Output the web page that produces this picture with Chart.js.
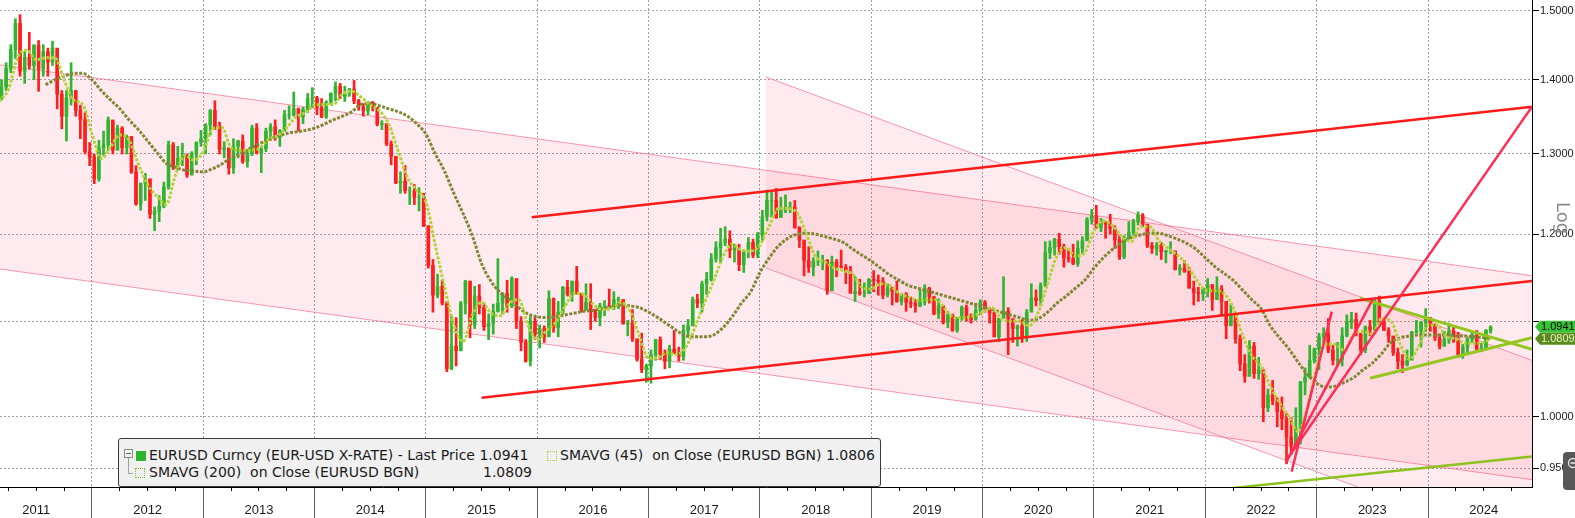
<!DOCTYPE html>
<html>
<head>
<meta charset="utf-8">
<title>EURUSD Curncy</title>
<script src="https://cdn.jsdelivr.net/npm/chart.js@4.4.1/dist/chart.umd.min.js"></script>
<style>
  body { margin: 0; background: #fff; }
  #wrap { position: relative; width: 1575px; height: 518px; overflow: hidden; }
  #chart { position: absolute; left: 0; top: 0; }
  #legend { position: absolute; left: 118px; top: 438px; width: 763px; height: 49px; box-sizing: border-box;
            background: #f0f0f0; border: 1px solid #3a3a3a; border-radius: 3px;
            font: 14px 'DejaVu Sans', sans-serif; color: #1a1a1a; }
  #legend span { position: absolute; white-space: pre; line-height: 18px; }
  .fold { left: 5px; top: 10px; width: 7px; height: 7px; border: 1px solid #8a8a8a; line-height: 6px !important; }
  .fold::after { content: ''; position: absolute; left: 1px; top: 3px; width: 5px; height: 1px; background: #666; }
  .stem { left: 9px; top: 19px; width: 1px; height: 16px !important; background: #a0a0a0; }
  .twig { left: 9px; top: 34px; width: 5px; height: 1px !important; background: #a0a0a0; }
  .sw { width: 10px; height: 10px !important; box-sizing: border-box; }
</style>
</head>
<body>
<div id="wrap">
  <canvas id="chart" width="1575" height="518"></canvas>
  <div id="legend">
    <span class="fold"></span><span class="stem"></span><span class="twig"></span>
    <span class="sw" style="left:17px;top:12px;background:#2db52d"></span>
    <span style="left:30px;top:7px">EURUSD Curncy (EUR-USD X-RATE) - Last Price 1.0941</span>
    <span class="sw" style="left:428px;top:12px;border:1px dotted #a8d040"></span>
    <span style="left:441px;top:7px">SMAVG (45)  on Close (EURUSD BGN) 1.0806</span>
    <span class="sw" style="left:16px;top:29px;border:1px dotted #8cb838"></span>
    <span style="left:30px;top:24px">SMAVG (200)  on Close (EURUSD BGN)</span>
    <span style="left:30px;top:24px;width:383px;text-align:right">1.0809</span>
  </div>
</div>
<script>
// EURUSD: [high, low, close]
const eur2011 = [ // from the first half of March
  [1.400, 1.372, 1.390], [1.424, 1.385, 1.416], [1.450, 1.410, 1.443], [1.488, 1.430, 1.481],
  [1.494, 1.405, 1.412], [1.440, 1.395, 1.432], [1.468, 1.415, 1.420], [1.450, 1.400, 1.449],
  [1.456, 1.384, 1.415], [1.450, 1.405, 1.440], [1.445, 1.405, 1.425], [1.455, 1.420, 1.445],
  [1.440, 1.360, 1.380], [1.385, 1.333, 1.350], [1.385, 1.317, 1.375], [1.424, 1.365, 1.385],
  [1.385, 1.350, 1.358], [1.365, 1.320, 1.345], [1.355, 1.300, 1.303], [1.315, 1.285, 1.296]
];
const eur2012 = [
  [1.300, 1.262, 1.268], [1.318, 1.265, 1.308], [1.330, 1.298, 1.312], [1.349, 1.305, 1.345],
  [1.335, 1.300, 1.305], [1.338, 1.305, 1.334], [1.336, 1.300, 1.308], [1.325, 1.300, 1.323],
  [1.322, 1.275, 1.277], [1.285, 1.235, 1.237], [1.263, 1.229, 1.262], [1.275, 1.241, 1.268],
  [1.268, 1.219, 1.224], [1.233, 1.204, 1.228], [1.247, 1.215, 1.234], [1.264, 1.232, 1.258],
  [1.317, 1.255, 1.312], [1.315, 1.280, 1.286], [1.310, 1.280, 1.294], [1.314, 1.285, 1.297],
  [1.300, 1.270, 1.273], [1.303, 1.273, 1.300], [1.316, 1.286, 1.315], [1.331, 1.310, 1.320]
];
const eur2013 = [
  [1.340, 1.300, 1.338], [1.359, 1.325, 1.358], [1.371, 1.332, 1.336], [1.342, 1.300, 1.306],
  [1.316, 1.295, 1.308], [1.305, 1.274, 1.282], [1.320, 1.275, 1.310], [1.318, 1.295, 1.317],
  [1.325, 1.288, 1.290], [1.306, 1.283, 1.300], [1.338, 1.298, 1.334], [1.340, 1.300, 1.301],
  [1.310, 1.276, 1.307], [1.334, 1.303, 1.330], [1.340, 1.318, 1.336], [1.345, 1.318, 1.322],
  [1.332, 1.310, 1.330], [1.358, 1.330, 1.352], [1.364, 1.346, 1.352], [1.383, 1.350, 1.360],
  [1.361, 1.330, 1.349], [1.362, 1.340, 1.359], [1.381, 1.355, 1.374], [1.389, 1.362, 1.375]
];
const eur2014 = [
  [1.377, 1.352, 1.362], [1.374, 1.348, 1.349], [1.371, 1.347, 1.369], [1.382, 1.366, 1.381],
  [1.397, 1.371, 1.391], [1.395, 1.374, 1.377], [1.391, 1.370, 1.381], [1.388, 1.377, 1.387],
  [1.399, 1.367, 1.371], [1.373, 1.358, 1.363], [1.367, 1.350, 1.357], [1.370, 1.352, 1.369],
  [1.370, 1.357, 1.362], [1.362, 1.337, 1.339], [1.344, 1.332, 1.340], [1.339, 1.311, 1.313],
  [1.317, 1.286, 1.297], [1.297, 1.262, 1.263], [1.277, 1.250, 1.265], [1.285, 1.250, 1.253],
  [1.258, 1.236, 1.253], [1.261, 1.236, 1.245], [1.257, 1.228, 1.245], [1.250, 1.209, 1.210]
];
const eur2015 = [
  [1.210, 1.160, 1.163], [1.170, 1.110, 1.129], [1.153, 1.126, 1.139], [1.146, 1.118, 1.120],
  [1.122, 1.046, 1.049], [1.105, 1.048, 1.073], [1.104, 1.052, 1.068], [1.122, 1.068, 1.120],
  [1.146, 1.108, 1.145], [1.145, 1.082, 1.096], [1.139, 1.092, 1.128], [1.141, 1.108, 1.115],
  [1.120, 1.090, 1.094], [1.108, 1.080, 1.098], [1.119, 1.086, 1.111], [1.171, 1.110, 1.120],
  [1.132, 1.108, 1.131], [1.146, 1.110, 1.117], [1.150, 1.115, 1.148], [1.146, 1.092, 1.100],
  [1.105, 1.068, 1.077], [1.080, 1.056, 1.057], [1.105, 1.052, 1.100], [1.105, 1.080, 1.086]
];
const eur2016 = [
  [1.096, 1.071, 1.092], [1.095, 1.077, 1.083], [1.134, 1.089, 1.125], [1.126, 1.088, 1.093],
  [1.122, 1.083, 1.110], [1.139, 1.108, 1.138], [1.146, 1.128, 1.130], [1.145, 1.122, 1.145],
  [1.162, 1.130, 1.131], [1.131, 1.110, 1.113], [1.142, 1.112, 1.121], [1.142, 1.091, 1.111],
  [1.113, 1.100, 1.104], [1.120, 1.095, 1.117], [1.123, 1.106, 1.117], [1.136, 1.116, 1.116],
  [1.133, 1.113, 1.124], [1.127, 1.114, 1.124], [1.124, 1.097, 1.097], [1.101, 1.084, 1.098],
  [1.113, 1.078, 1.081], [1.080, 1.057, 1.059], [1.087, 1.045, 1.048], [1.054, 1.035, 1.052]
];
const eur2017 = [
  [1.069, 1.034, 1.064], [1.080, 1.058, 1.080], [1.083, 1.059, 1.064], [1.069, 1.049, 1.057],
  [1.074, 1.050, 1.070], [1.090, 1.065, 1.065], [1.072, 1.057, 1.062], [1.096, 1.058, 1.090],
  [1.102, 1.084, 1.095], [1.127, 1.095, 1.124], [1.130, 1.115, 1.120], [1.145, 1.110, 1.142],
  [1.155, 1.130, 1.147], [1.177, 1.145, 1.171], [1.191, 1.167, 1.184], [1.207, 1.166, 1.190],
  [1.209, 1.186, 1.194], [1.204, 1.172, 1.181], [1.188, 1.167, 1.183], [1.188, 1.157, 1.164],
  [1.180, 1.155, 1.180], [1.196, 1.172, 1.190], [1.194, 1.172, 1.175], [1.202, 1.172, 1.200]
];
const eur2018 = [
  [1.229, 1.192, 1.221], [1.254, 1.216, 1.241], [1.251, 1.221, 1.241], [1.256, 1.219, 1.220],
  [1.245, 1.221, 1.229], [1.248, 1.226, 1.232], [1.239, 1.226, 1.233], [1.241, 1.207, 1.208],
  [1.209, 1.184, 1.193], [1.185, 1.151, 1.169], [1.185, 1.155, 1.161], [1.172, 1.151, 1.168],
  [1.180, 1.163, 1.168], [1.175, 1.158, 1.169], [1.170, 1.130, 1.134], [1.174, 1.134, 1.167],
  [1.170, 1.150, 1.162], [1.181, 1.160, 1.161], [1.164, 1.142, 1.157], [1.162, 1.132, 1.131],
  [1.150, 1.122, 1.133], [1.147, 1.129, 1.131], [1.143, 1.127, 1.131], [1.148, 1.131, 1.147]
];
const eur2019 = [
  [1.157, 1.133, 1.146], [1.152, 1.129, 1.145], [1.149, 1.125, 1.129], [1.142, 1.127, 1.137],
  [1.138, 1.118, 1.133], [1.145, 1.121, 1.122], [1.131, 1.118, 1.130], [1.132, 1.111, 1.121],
  [1.127, 1.115, 1.120], [1.124, 1.110, 1.117], [1.135, 1.116, 1.121], [1.141, 1.118, 1.137],
  [1.138, 1.120, 1.127], [1.128, 1.107, 1.108], [1.125, 1.103, 1.117], [1.117, 1.097, 1.099],
  [1.111, 1.093, 1.107], [1.108, 1.089, 1.090], [1.104, 1.088, 1.103], [1.117, 1.101, 1.115],
  [1.118, 1.100, 1.104], [1.108, 1.098, 1.102], [1.120, 1.101, 1.112], [1.124, 1.107, 1.121]
];
const eur2020 = [
  [1.123, 1.110, 1.114], [1.115, 1.098, 1.109], [1.110, 1.083, 1.083], [1.103, 1.078, 1.103],
  [1.150, 1.105, 1.111], [1.115, 1.064, 1.103], [1.099, 1.077, 1.092], [1.096, 1.073, 1.095],
  [1.102, 1.077, 1.082], [1.113, 1.078, 1.110], [1.142, 1.111, 1.126], [1.135, 1.117, 1.123],
  [1.143, 1.117, 1.140], [1.191, 1.139, 1.178], [1.192, 1.171, 1.184], [1.195, 1.175, 1.194],
  [1.201, 1.176, 1.185], [1.188, 1.161, 1.172], [1.183, 1.167, 1.171], [1.188, 1.164, 1.165],
  [1.192, 1.162, 1.183], [1.197, 1.177, 1.192], [1.220, 1.195, 1.218], [1.230, 1.212, 1.222]
];
const eur2021 = [
  [1.235, 1.207, 1.208], [1.219, 1.203, 1.214], [1.215, 1.195, 1.212], [1.224, 1.200, 1.207],
  [1.210, 1.183, 1.193], [1.199, 1.170, 1.173], [1.198, 1.171, 1.196], [1.215, 1.194, 1.202],
  [1.218, 1.199, 1.215], [1.227, 1.211, 1.223], [1.225, 1.209, 1.212], [1.212, 1.184, 1.186],
  [1.190, 1.177, 1.183], [1.190, 1.175, 1.187], [1.190, 1.170, 1.179], [1.181, 1.166, 1.180],
  [1.191, 1.177, 1.180], [1.180, 1.158, 1.158], [1.164, 1.152, 1.160], [1.169, 1.155, 1.156],
  [1.161, 1.137, 1.137], [1.145, 1.118, 1.132], [1.138, 1.122, 1.131], [1.137, 1.123, 1.137]
];
const eur2022 = [
  [1.148, 1.127, 1.141], [1.141, 1.112, 1.124], [1.150, 1.128, 1.136], [1.140, 1.106, 1.122],
  [1.122, 1.081, 1.095], [1.119, 1.095, 1.107], [1.107, 1.076, 1.081], [1.085, 1.047, 1.054],
  [1.064, 1.035, 1.041], [1.079, 1.044, 1.073], [1.077, 1.039, 1.044], [1.061, 1.038, 1.048],
  [1.047, 0.995, 1.009], [1.028, 1.005, 1.022], [1.037, 1.012, 1.016], [1.019, 0.990, 1.005],
  [1.020, 0.987, 0.998], [1.003, 0.954, 0.980], [0.999, 0.963, 0.972], [1.009, 0.972, 0.988],
  [1.036, 0.973, 1.035], [1.050, 1.022, 1.040], [1.074, 1.040, 1.058], [1.071, 1.055, 1.070]
];
const eur2023 = [
  [1.087, 1.048, 1.083], [1.093, 1.076, 1.086], [1.103, 1.066, 1.069], [1.074, 1.053, 1.058],
  [1.077, 1.052, 1.059], [1.093, 1.052, 1.084], [1.107, 1.083, 1.099], [1.110, 1.092, 1.102],
  [1.109, 1.084, 1.086], [1.087, 1.064, 1.069], [1.095, 1.066, 1.094], [1.101, 1.084, 1.091],
  [1.124, 1.087, 1.123], [1.128, 1.098, 1.100], [1.104, 1.090, 1.090], [1.093, 1.077, 1.084],
  [1.082, 1.063, 1.066], [1.071, 1.049, 1.057], [1.064, 1.045, 1.053], [1.069, 1.052, 1.058],
  [1.089, 1.060, 1.088], [1.101, 1.087, 1.089], [1.100, 1.072, 1.099], [1.114, 1.089, 1.104]
];
const eur2024 = [ // up to mid July
  [1.104, 1.089, 1.095], [1.097, 1.079, 1.082], [1.086, 1.070, 1.073], [1.089, 1.073, 1.080],
  [1.098, 1.076, 1.089], [1.094, 1.077, 1.079], [1.088, 1.061, 1.064], [1.075, 1.060, 1.072],
  [1.082, 1.065, 1.081], [1.089, 1.077, 1.085], [1.090, 1.067, 1.070], [1.076, 1.067, 1.071],
  [1.091, 1.070, 1.090], [1.095, 1.087, 1.0941]
];
const eurYears = [eur2011, eur2012, eur2013, eur2014, eur2015, eur2016, eur2017,
                  eur2018, eur2019, eur2020, eur2021, eur2022, eur2023, eur2024];
const firstOpen = 1.378;

// moving averages, month-end values
const sma45 = [ // from end of Feb 2011
  1.370, 1.387, 1.432, 1.442, 1.428, 1.431, 1.431, 1.400, 1.372, 1.366, 1.326,
  1.294, 1.309, 1.325, 1.318, 1.287, 1.261, 1.246, 1.236, 1.273, 1.298, 1.292, 1.303,
  1.333, 1.335, 1.308, 1.305, 1.305, 1.307, 1.319, 1.324, 1.335, 1.349, 1.355, 1.365,
  1.366, 1.366, 1.380, 1.384, 1.376, 1.365, 1.357, 1.339, 1.304, 1.270, 1.254, 1.239,
  1.187, 1.138, 1.096, 1.078, 1.107, 1.121, 1.109, 1.106, 1.120, 1.124, 1.096, 1.080,
  1.090, 1.099, 1.117, 1.131, 1.130, 1.119, 1.113, 1.114, 1.121, 1.111, 1.084, 1.060,
  1.061, 1.066, 1.064, 1.072, 1.093, 1.120, 1.145, 1.173, 1.188, 1.181, 1.180, 1.187,
  1.210, 1.231, 1.231, 1.226, 1.200, 1.173, 1.167, 1.160, 1.157, 1.153, 1.138, 1.136,
  1.142, 1.140, 1.131, 1.127, 1.123, 1.124, 1.124, 1.113, 1.104, 1.104, 1.106, 1.110,
  1.115, 1.103, 1.100, 1.100, 1.095, 1.110, 1.142, 1.174, 1.184, 1.174, 1.178, 1.204,
  1.216, 1.210, 1.197, 1.191, 1.209, 1.209, 1.192, 1.183, 1.175, 1.164, 1.147, 1.135,
  1.134, 1.131, 1.115, 1.085, 1.063, 1.052, 1.031, 1.014, 1.000, 0.985, 1.009, 1.051,
  1.075, 1.075, 1.068, 1.086, 1.089, 1.086, 1.103, 1.100, 1.075, 1.059, 1.073, 1.096,
  1.096, 1.083, 1.081, 1.076, 1.076, 1.077
];
const sma200 = [ // from end of Jul 2011
  1.393, 1.400, 1.405, 1.409, 1.409, 1.400,
  1.385, 1.372, 1.360, 1.345, 1.332, 1.317, 1.302, 1.288, 1.283, 1.279, 1.278, 1.277,
  1.281, 1.287, 1.295, 1.300, 1.307, 1.313, 1.318, 1.323, 1.327, 1.329, 1.331, 1.334,
  1.339, 1.345, 1.350, 1.356, 1.366, 1.367, 1.364, 1.360, 1.356, 1.350, 1.340, 1.326,
  1.300, 1.278, 1.250, 1.225, 1.198, 1.165, 1.145, 1.132, 1.124, 1.115, 1.108, 1.105,
  1.104, 1.105, 1.107, 1.109, 1.111, 1.112, 1.114, 1.116, 1.118, 1.117, 1.115, 1.110,
  1.104, 1.097, 1.090, 1.084, 1.083, 1.083, 1.085, 1.093, 1.105, 1.120, 1.133, 1.155,
  1.172, 1.186, 1.195, 1.200, 1.201, 1.200, 1.197, 1.194, 1.190, 1.182, 1.175, 1.168,
  1.160, 1.152, 1.146, 1.140, 1.137, 1.134, 1.131, 1.128, 1.125, 1.122, 1.119, 1.116,
  1.113, 1.110, 1.107, 1.104, 1.101, 1.103, 1.110, 1.120, 1.128, 1.137, 1.146, 1.160,
  1.172, 1.182, 1.190, 1.196, 1.199, 1.201, 1.201, 1.198, 1.194, 1.189, 1.182, 1.172,
  1.162, 1.154, 1.146, 1.135, 1.124, 1.114, 1.095, 1.082, 1.070, 1.056, 1.043, 1.034,
  1.030, 1.031, 1.035, 1.040, 1.048, 1.055, 1.065, 1.077, 1.082, 1.084, 1.085, 1.085,
  1.085, 1.085, 1.084, 1.084, 1.083, 1.082
];
const sma45Last = 1.0806;
const sma200Last = 1.0809;

// drawn trend lines, end points as [year, price]
const outerTop = [[2011.174, 1.4209], [2024.934, 1.1512]];
const outerBottom = [[2011.174, 1.1589], [2024.934, 0.9390]];
const innerTop = [[2018.054, 1.4039], [2024.934, 1.0578]];
const innerBottom = [[2018.054, 1.1601], [2024.934, 0.8741]];
const redTop = [[2015.950, 1.2204], [2024.934, 1.3629]];
const redBottom = [[2015.500, 1.0192], [2024.934, 1.1450]];
const fanA = [[2022.775, 0.9466], [2023.135, 1.1106]];
const fanB = [[2022.724, 0.9551], [2023.508, 1.1255]];
const fanC = [[2022.742, 0.9596], [2024.934, 1.3629]];
const greenTop = [[2023.389, 1.1255], [2024.934, 1.0695]];
const greenLow = [[2023.479, 1.0391], [2024.934, 1.0820]];
const greenBase = [[2021.952, 0.9280], [2024.934, 0.9610]];

// axes
const xStart = 2011.174, xEnd = 2024.934;
const yBottom = 0.9322, yTop = 1.5161;
const yearLabels = ['2011', '2012', '2013', '2014', '2015', '2016', '2017',
                    '2018', '2019', '2020', '2021', '2022', '2023', '2024'];
const yTicks = [0.95, 1.0, 1.1, 1.2, 1.3, 1.4, 1.5];
const yTickLabels = ['0.9500', '1.0000', '', '1.2000', '1.3000', '1.4000', '1.5000'];

const UP = '#2fb52f', DOWN = '#ff1e1e';

// build bars: wick = high/low, body = previous close to close
const wicks = [], bodies = [], barColors = [];
let prevClose = firstOpen;
let lastX = 0, lastClose = 0;
eurYears.forEach((rows, yi) => {
  const year = 2011 + yi;
  const skip = yi === 0 ? 4 : 0;
  rows.forEach((r, i) => {
    const x = year + (skip + i + 0.5) / 24;
    wicks.push({ x: x, y: [r[1], r[0]] });
    bodies.push({ x: x, y: [Math.min(prevClose, r[2]), Math.max(prevClose, r[2])] });
    barColors.push(r[2] >= prevClose ? UP : DOWN);
    prevClose = r[2];
    lastX = x;
    lastClose = r[2];
  });
});

const sma45Points = sma45.map((v, i) => ({ x: 2011 + (2 + i) / 12, y: v }));
sma45Points.push({ x: lastX, y: sma45Last });
const sma200Points = sma200.map((v, i) => ({ x: 2011 + (7 + i) / 12, y: v }));
sma200Points.push({ x: lastX, y: sma200Last });

function pts(pair) {
  return pair.map(p => ({ x: p[0], y: p[1] }));
}

function trend(pair, color, width, order) {
  return { type: 'line', data: pts(pair), borderColor: color, borderWidth: width,
           pointRadius: 0, fill: false, order: order };
}

const CHANNEL_EDGE = 'rgba(243, 110, 140, 0.7)';
const CHANNEL_FILL = 'rgba(255, 60, 100, 0.1)';

const datasets = [
  trend(outerTop, CHANNEL_EDGE, 1, 20),
  Object.assign(trend(outerBottom, CHANNEL_EDGE, 1, 19), { fill: '-1', backgroundColor: CHANNEL_FILL }),
  trend(innerTop, CHANNEL_EDGE, 1, 18),
  Object.assign(trend(innerBottom, CHANNEL_EDGE, 1, 17), { fill: '-1', backgroundColor: CHANNEL_FILL }),
  { type: 'bar', data: wicks, backgroundColor: barColors, barThickness: 2, grouped: false, order: 9 },
  { type: 'bar', data: bodies, backgroundColor: barColors, barThickness: 3, grouped: false, order: 8 },
  { type: 'line', data: sma200Points, borderColor: '#7f8634', borderWidth: 3, borderDash: [3, 1.5],
    pointRadius: 0, cubicInterpolationMode: 'monotone', order: 7 },
  { type: 'line', data: sma45Points, borderColor: '#b2d23a', borderWidth: 3, borderDash: [3, 1.5],
    pointRadius: 0, cubicInterpolationMode: 'monotone', order: 6 },
  trend(greenBase, '#8cc21c', 2.5, 5),
  trend(greenTop, '#95c620', 3, 4),
  trend(greenLow, '#95c620', 3, 4),
  trend(redBottom, '#ff1a1a', 2.5, 3),
  trend(redTop, '#ff1a1a', 2.5, 3),
  trend(fanA, '#ff2d55', 2.5, 2),
  trend(fanB, '#ff2d55', 2.5, 2),
  trend(fanC, '#ff2d55', 2.5, 2)
];

// last price tags, the Log mark and the corner button
const extras = {
  id: 'extras',
  afterDraw(chart) {
    const ctx = chart.ctx;
    const y = chart.scales.y;
    const left = chart.chartArea.right + 3;
    function tag(value, fill, color) {
      const py = y.getPixelForValue(value);
      ctx.beginPath();
      ctx.moveTo(left, py);
      ctx.lineTo(left + 5, py - 6);
      ctx.lineTo(left + 50, py - 6);
      ctx.lineTo(left + 50, py + 6);
      ctx.lineTo(left + 5, py + 6);
      ctx.closePath();
      ctx.fillStyle = fill;
      ctx.fill();
      ctx.fillStyle = color;
      ctx.font = '11px "Liberation Sans", Arial, sans-serif';
      ctx.textBaseline = 'middle';
      ctx.textAlign = 'left';
      ctx.fillText(value.toFixed(4), left + 6, py + 0.5);
    }
    ctx.save();
    tag(sma200Last, '#5b8a1d', '#e4efc8');
    tag(lastClose, '#38c238', '#0a0a0a');

    // Log
    ctx.translate(1557, 202);
    ctx.rotate(Math.PI / 2);
    ctx.fillStyle = '#8c8c8c';
    ctx.font = '18px "DejaVu Sans", sans-serif';
    ctx.textBaseline = 'alphabetic';
    ctx.fillText('Log', 0, 0);
    ctx.restore();

    // corner button
    ctx.save();
    ctx.fillStyle = '#585858';
    ctx.beginPath();
    ctx.roundRect(1563, 452, 24, 38, 4);
    ctx.fill();
    ctx.strokeStyle = '#e8e8e8';
    ctx.lineWidth = 1.3;
    ctx.beginPath();
    ctx.arc(1573, 463, 4.5, 0, Math.PI * 2);
    ctx.moveTo(1570.5, 463);
    ctx.lineTo(1575.5, 463);
    ctx.stroke();
    ctx.restore();
  }
};

new Chart(document.getElementById('chart'), {
  type: 'line',
  data: { datasets: datasets },
  options: {
    responsive: false,
    animation: false,
    events: [],
    layout: { padding: 0 },
    plugins: { legend: { display: false }, tooltip: { enabled: false } },
    scales: {
      x: {
        type: 'linear', position: 'bottom', weight: 1, offset: false,
        min: xStart, max: xEnd, bounds: 'data',
        afterBuildTicks: s => { s.ticks = yearLabels.map(l => ({ value: Number(l) + 0.5 })); },
        afterFit: s => { s.height = 31; s.paddingLeft = 0; s.paddingRight = 0; },
        grid: { offset: true, color: '#a0a0a0', lineWidth: 1, tickLength: 31,
                tickColor: '#606060', tickBorderDash: [] },
        border: { display: true, color: '#000', width: 1, dash: [2, 2] },
        ticks: {
          autoSkip: false, maxRotation: 0, padding: -15, color: '#1a1a1a',
          font: { family: "'Liberation Sans Narrow', 'Liberation Sans', Arial, sans-serif", size: 13 },
          callback: v => String(Math.floor(v))
        }
      },
      xq: {
        type: 'linear', position: 'bottom', weight: 0, display: true, offset: false,
        min: xStart, max: xEnd, bounds: 'data',
        afterBuildTicks: s => {
          const t = [];
          yearLabels.forEach(l => { for (let q = 1; q < 4; q++) t.push({ value: Number(l) + q / 4 }); });
          s.ticks = t.filter(k => k.value > xStart && k.value < xEnd);
        },
        afterFit: s => { s.height = 0; s.paddingLeft = 0; s.paddingRight = 0; },
        grid: { drawOnChartArea: false, offset: false, tickLength: 4, tickColor: '#000', tickBorderDash: [] },
        border: { display: false },
        ticks: { display: false }
      },
      y: {
        type: 'logarithmic', position: 'right',
        min: yBottom, max: yTop, bounds: 'data',
        afterBuildTicks: s => { s.ticks = yTicks.map(v => ({ value: v })); },
        afterFit: s => { s.width = 43; s.paddingTop = 0; s.paddingBottom = 0; },
        grid: { color: '#a0a0a0', lineWidth: 1, tickLength: 7, tickColor: '#000', tickBorderDash: [] },
        border: { display: true, color: '#000', width: 1, dash: [2, 2] },
        ticks: {
          padding: 1, color: '#1a1a1a',
          font: { family: "'Liberation Sans', Arial, sans-serif", size: 11 },
          callback: v => yTickLabels[yTicks.indexOf(v)] ?? ''
        }
      }
    }
  },
  plugins: [extras]
});
</script>
</body>
</html>
